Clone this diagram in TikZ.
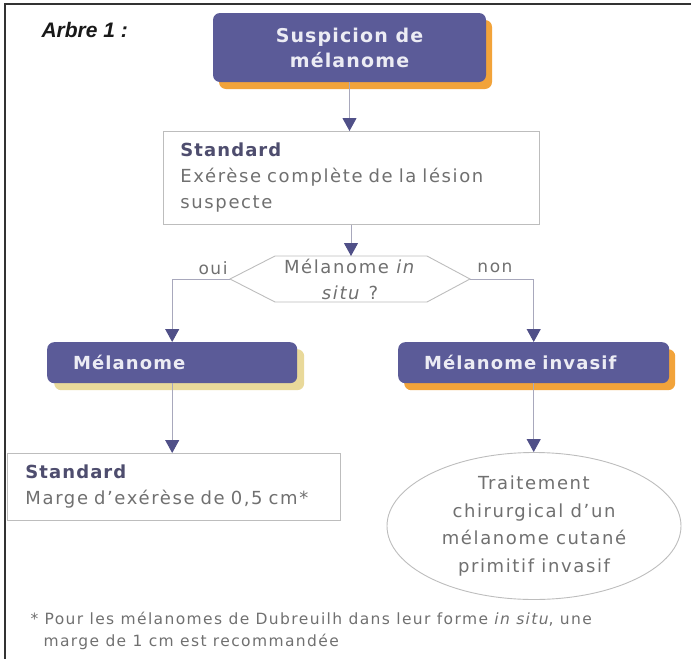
\documentclass[tikz,border=0pt]{standalone}
\usepackage{fontspec}
\setmainfont[LetterSpace=9, BoldFeatures={LetterSpace=6}]{DejaVu Sans}
\newfontfamily\titlefont{Liberation Sans}
\usetikzlibrary{arrows.meta,shapes.geometric,shadows}

\definecolor{boxpurple}{HTML}{5B5B98}
\definecolor{shadoworange}{HTML}{F2A33A}
\definecolor{shadowpale}{HTML}{E9D99A}
\definecolor{arrowhead}{HTML}{505088}
\definecolor{linegray}{HTML}{A8A8BC}
\definecolor{bordergray}{HTML}{BDBDBD}
\definecolor{textgray}{HTML}{707070}
\definecolor{headgray}{HTML}{4E4D6E}
\definecolor{boxtext}{HTML}{ECECF4}

\tikzset{
  purplebox/.style={fill=boxpurple, rounded corners=7pt, text=boxtext,
    inner ysep=0pt, font=\fontsize{18}{24}\selectfont\bfseries},
  orangeshadow/.style={copy shadow={shadow xshift=6pt, shadow yshift=-7pt,
    fill=shadoworange, draw=none}},
  paleshadow/.style={copy shadow={shadow xshift=7pt, shadow yshift=-7pt,
    fill=shadowpale, draw=none}},
  whitebox/.style={draw=bordergray, line width=0.9pt, fill=white, text=textgray,
    align=left, inner ysep=0pt, font=\fontsize{18}{26}\selectfont},
  flow/.style={draw=linegray, line width=1pt,
    -{Triangle[width=14pt,length=13pt,color=arrowhead]}},
  branchlabel/.style={text=textgray, font=\fontsize{17}{20}\selectfont},
}
\newcommand{\stdtitle}{\textcolor{headgray}{\bfseries Standard}}

\begin{document}
\begin{tikzpicture}[x=1pt,y=-1pt]
  \useasboundingbox (0,0) rectangle (691,659);

  % outer frame: top and left rules
  \draw[line width=1.4pt, black!80] (691,4) -- (5,4) -- (5,659);

  % heading
  \node[anchor=west, font=\titlefont\fontsize{21}{24}\selectfont\bfseries\itshape,
        text=black!90] (title) at (38,30) {Arbre 1 :};

  % entry point
  \node[purplebox, orangeshadow, minimum width=273pt, minimum height=69pt,
        align=center, font=\fontsize{19}{25}\selectfont\bfseries]
        (susp) at (349.5,47.5) {Suspicion de\\mélanome};

  % first standard box
  \node[whitebox, anchor=north west, text width=342pt, inner xsep=17pt,
        minimum height=93pt] (std1) at (163,131)
        {\stdtitle\\Exérèse complète de la lésion\\suspecte};

  % decision hexagon
  \coordinate (hexL) at (230,279);
  \coordinate (hexR) at (470,279);
  \coordinate (hexT) at (351,256);
  \draw[draw=bordergray, line width=0.9pt, fill=white]
    (hexL) -- (275,256) -- (427,256) -- (hexR) -- (427,302) -- (275,302) -- cycle;
  \node[text=textgray, align=center, font=\fontsize{18}{26}\selectfont]
        (quest) at (350,279) {Mélanome \textit{in}\\\textit{situ} ?};
  \node[branchlabel] (oui) at (213,268) {oui};
  \node[branchlabel] (non) at (495,268) {non};

  % outcome boxes
  \node[purplebox, paleshadow, anchor=north west, text width=198pt,
        inner xsep=26pt, minimum height=41pt, align=left]
        (mel) at (47,342) {Mélanome};
  \node[purplebox, orangeshadow, anchor=north west, text width=219pt,
        inner xsep=26pt, minimum height=41pt, align=left]
        (inv) at (398,342) {Mélanome invasif};

  % second standard box
  \node[whitebox, anchor=north west, text width=297pt, inner xsep=18pt,
        minimum height=67pt] (std2) at (7,453)
        {\stdtitle\\Marge d'exérèse de 0,5 cm*};

  % treatment ellipse
  \node[ellipse, draw=bordergray, line width=0.9pt, fill=white, text=textgray,
        minimum width=294pt, minimum height=147pt, inner sep=0pt, align=center,
        font=\fontsize{18}{27.5}\selectfont]
        (treat) at (534,526) {Traitement\\chirurgical d'un\\mélanome cutané\\primitif invasif};

  % connectors
  \draw[flow] (susp.south) -- (susp.south |- std1.north);
  \draw[flow] (std1.south -| hexT) -- (hexT);
  \draw[flow] (hexL) -| (mel.north);
  \draw[flow] (hexR) -| (inv.north);
  \draw[flow] (mel.south) -- (mel.south |- std2.north);
  \draw[flow] (inv.south) -- (inv.south |- treat.north);

  % footnote
  \node[anchor=north west, text=textgray, align=left,
        font=\fontsize{15.5}{22}\selectfont] (note) at (27,609)
        {* Pour les mélanomes de Dubreuilh dans leur forme \textit{in situ}, une\\
         \hspace*{13pt}marge de 1 cm est recommandée};
\end{tikzpicture}
\end{document}
